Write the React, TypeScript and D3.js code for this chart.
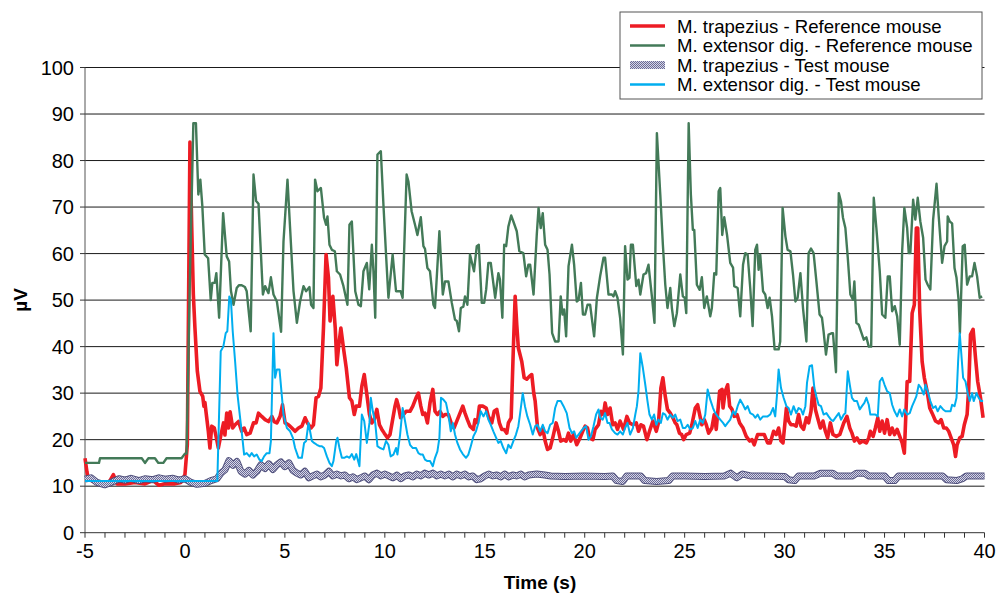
import React from "react";
import * as d3 from "d3";

type P = [number, number];

// Time (s), µV
const refTrapezius: P[] = [
  [-5.0,16],[-4.9,13],[-4.83,11.5],[-4.5,10.8],[-4.0,10.5],[-3.8,10.8],[-3.58,12.5],[-3.4,10.5],[-3.0,10.5],[-2.5,10.8],[-2.0,10.5],[-1.6,11.2],[-1.3,10.2],[-1.0,10.5],[-0.5,10.5],[-0.2,10.8],[0.0,12.5],[0.12,19],[0.25,84],[0.34,65.5],[0.42,51.2],[0.5,44],[0.62,34.7],[0.75,30.4],[0.89,29.3],[0.95,27.2],[1.0,28],[1.05,26.1],[1.17,21.8],[1.25,18.2],[1.34,22.9],[1.47,22.5],[1.59,20],[1.67,18.2],[1.8,21],[1.93,23.6],[2.0,21],[2.09,25.7],[2.18,22.5],
  [2.26,26],[2.39,22.5],[2.51,23.2],[2.68,23.9],[2.84,21.8],[2.96,22.5],[3.09,21.1],[3.26,21.4],[3.43,23.6],[3.56,23.6],[3.68,25.7],[3.84,25],[4.01,24.3],[4.18,23.9],[4.35,25],[4.46,23.9],[4.6,23.6],[4.76,25],[4.88,27.5],[5.01,23.6],[5.18,23.2],[5.35,22.5],[5.51,21.8],[5.68,22.5],[5.85,22.9],[6.01,24.7],[6.13,23.6],[6.3,22.5],[6.43,23.2],[6.56,29],[6.68,29.3],[6.8,31.1],[6.93,44],[7.06,59.8],[7.18,54.8],[7.26,45.5],[7.4,50.8],[7.52,44],[7.6,36.1],[7.68,39.7],[7.8,44],[7.93,39.7],[8.07,35.4],[8.23,29],[8.35,28.3],[8.47,25.4],[8.57,27.2],[8.73,27.2],[8.85,31.5],[8.97,34],[9.1,29.7],[9.23,25.4],[9.35,23.6],[9.47,24.3],[9.6,26.5],[9.73,23.2],[9.85,22.2],[9.97,21.4],
  [10.13,20.4],[10.26,21.1],[10.39,24.3],[10.51,27.2],[10.59,28.6],[10.68,27.2],[10.79,24.7],[10.93,25.4],[11.06,26.1],[11.26,26.1],[11.4,27.2],[11.56,29],[11.68,30],[11.8,27.2],[11.9,25.4],[12.01,25.7],[12.13,23.6],[12.26,27.9],[12.4,30.8],[12.51,26.1],[12.63,25.4],[12.76,26.1],[12.9,25],[13.01,25.4],[13.18,25.4],[13.35,23.2],[13.46,22.5],[13.6,24],[13.76,25.7],[13.9,27.2],[14.01,25.7],[14.13,24.3],[14.26,22.9],[14.43,22.2],[14.51,24.3],[14.63,23.6],[14.73,27.2],[14.9,27.2],[15.07,26.8],[15.18,25],[15.35,23.6],[15.47,26.1],[15.6,26.5],[15.73,23.6],[15.85,22.2],[15.97,22.2],[16.1,21.4],[16.18,23.6],[16.32,24.7],[16.43,39.7],[16.52,50.8],[16.6,44.7],[16.68,39.7],[16.85,36.8],[16.97,33.3],[17.1,33],[17.23,33.6],[17.35,34],[17.45,30],
  [17.52,28.3],[17.64,22.5],[17.77,21.1],[17.9,22.5],[18.02,19.7],[18.14,17.9],[18.27,18.2],[18.4,20.4],[18.57,23.6],[18.69,21.8],[18.8,19.7],[18.94,20],[19.07,19.7],[19.19,21.4],[19.3,19.7],[19.44,21.1],[19.6,18.9],[19.77,20.4],[19.9,21.8],[20.02,22.9],[20.14,22.5],[20.24,20.4],[20.41,20],[20.52,22.2],[20.69,23.2],[20.81,26.1],[20.94,25.4],[21.02,27.9],[21.14,25.4],[21.27,26.8],[21.4,23.2],[21.52,23.6],[21.64,22.2],[21.77,24],[21.94,22.2],[22.11,25],[22.24,23.6],[22.41,23.2],[22.58,23.6],[22.69,21.8],[22.81,23.2],[22.94,22.9],[23.11,20],[23.24,21.8],[23.41,24],[23.58,21.8],[23.69,23.6],[23.81,31.1],[23.91,33.3],[24.03,29.3],[24.14,26.5],[24.28,25.7],[24.41,24.7],[24.53,23.6],[24.61,23.2],[24.74,21.4],[24.85,21.1],[24.95,20],
  [25.08,21.1],[25.25,21.4],[25.36,23.2],[25.53,26.8],[25.65,27.5],[25.75,25.4],[25.86,23.2],[25.98,24.3],[26.08,23.2],[26.2,21.4],[26.36,22.5],[26.48,25.4],[26.58,22.2],[26.75,30.4],[26.87,30.8],[26.92,26.8],[27.03,30.4],[27.15,31.8],[27.25,27.2],[27.37,26.5],[27.48,25],[27.62,25.4],[27.75,23.6],[27.92,22.5],[28.08,20.7],[28.25,19.7],[28.37,20],[28.48,18.9],[28.65,21.1],[28.82,21.1],[28.98,21.1],[29.15,19.3],[29.28,19.3],[29.45,21.8],[29.58,21.1],[29.7,22.5],[29.82,19.7],[29.92,19.3],[30.09,26.8],[30.2,24],[30.32,23.2],[30.45,23.2],[30.58,22.9],[30.7,25.4],[30.82,22.9],[30.95,22.2],[31.09,24.7],[31.2,23.6],[31.32,26.1],[31.42,31.1],[31.54,26.5],[31.65,24.7],[31.79,22.5],[31.92,24],[32.04,21.8],[32.15,20.4],
  [32.29,23.6],[32.42,21.1],[32.59,20.7],[32.76,21.1],[32.96,23.6],[33.12,25],[33.26,22.5],[33.37,21.4],[33.49,19.7],[33.62,20.4],[33.76,19.3],[33.92,19.7],[34.09,19.3],[34.21,20.4],[34.29,21.8],[34.43,20.7],[34.54,22.5],[34.66,24.7],[34.76,21.8],[34.88,24],[35.0,21.4],[35.13,24.3],[35.26,21.1],[35.38,22.5],[35.5,21.1],[35.63,22.2],[35.76,20.7],[35.88,19.3],[35.99,17.1],[36.13,32.5],[36.26,32.5],[36.38,47.2],[36.49,49],[36.59,65.5],[36.66,65.5],[36.76,47.6],[36.88,36.8],[36.99,33.3],[37.13,30.4],[37.26,26.8],[37.38,25.7],[37.55,24],[37.71,23.6],[37.83,24.3],[37.96,22.5],[38.09,22.5],[38.21,21.8],[38.33,20.4],[38.46,18.9],[38.55,16.4],[38.63,18.9],[38.76,20.4],[38.88,20.7],[38.99,23.2],[39.13,25.4],[39.21,31.1],[39.3,42.6],[39.43,43.7],[39.55,37.6],[39.66,32.5],[39.8,29],[39.93,24.7]
];

const refExtensor: P[] = [
  [-5.0,15],[-4.3,15],[-4.25,16],[-2.16,16],[-2.0,15],[-1.83,16],[-1.5,16],[-1.33,15],[-1.08,15],[-0.92,16],[-0.17,16],[0.0,17],[0.08,17],[0.25,55],[0.42,88],[0.55,88],[0.67,72.7],[0.77,75.9],[0.87,70.2],[0.99,59.8],[1.16,59],[1.29,50],[1.37,53.7],[1.49,53.7],[1.57,55.8],[1.71,46.2],[1.91,68.7],[2.09,59.4],[2.21,58.3],[2.3,52],[2.43,49],[2.59,52.6],[2.7,53.2],[2.84,53.2],[3.0,52.8],[3.09,51.9],[3.29,43.3],[3.43,77],[3.56,71.3],[3.68,70.7],[3.9,51.2],[4.01,53],[4.18,51.5],[4.3,54.9],[4.43,51.2],[4.6,49.7],[4.81,43.2],[4.93,62.6],[5.13,75.9],[5.26,65.5],[5.43,52],[5.6,45.1],[5.76,49.7],[5.93,53],[6.06,51.9],[6.23,52.8],[6.31,49],[6.43,48.3],[6.51,75.9],[6.63,73.4],[6.8,74.1],[6.96,67.7],[7.06,66.2],[7.13,68],[7.23,61.9],[7.35,60.8],[7.5,60.5],[7.6,56.2],[7.76,55.5],[7.93,53],[8.13,49],[8.23,66.2],[8.35,66.9],[8.52,51.9],[8.68,49],[8.8,48.7],[8.93,56.2],[9.1,58],[9.22,52.3],[9.35,61.9],[9.43,56.2],[9.52,46.2],[9.63,81.3],[9.8,82],[9.93,70.5],
  [10.06,59.8],[10.18,50.5],[10.39,59.8],[10.56,51.9],[10.68,51.9],[10.79,51.9],[10.89,50.5],[11.09,77],[11.18,75.5],[11.34,69.1],[11.51,66.2],[11.63,64],[11.8,67.8],[11.93,61.6],[12.01,61],[12.13,56.9],[12.26,56.2],[12.43,49],[12.51,48.3],[12.73,64.8],[12.9,51.2],[13.01,54],[13.18,54],[13.35,49.4],[13.51,45.8],[13.6,45.5],[13.71,43.3],[13.8,48.3],[13.93,48.6],[14.01,50.8],[14.13,49],[14.26,59.8],[14.46,56.2],[14.6,61.6],[14.7,61.9],[14.85,49.4],[14.97,49.4],[15.07,52.3],[15.18,58],[15.3,58],[15.52,50.5],[15.68,55.8],[15.76,54.4],[15.88,46.2],[15.97,61.9],[16.07,61.6],[16.18,65.8],[16.32,68.2],[16.43,66.9],[16.6,64.8],[16.73,60.5],[16.93,60.1],[17.07,55.1],[17.18,57.6],[17.27,57.6],[17.44,51.2],[17.6,64],[17.69,69.8],[17.8,65.5],[17.9,68.7],[18.02,61.9],[18.14,60.8],[18.24,55.5],[18.37,42.9],[18.52,41.1],[18.69,41.1],[18.8,50.8],[18.89,46.9],[18.97,48],[19.07,42.2],[19.19,57.3],[19.36,61.9],[19.47,57.6],[19.6,49.7],[19.69,50],[19.81,53.7],[19.91,46.9],[20.02,46.9],[20.14,49],[20.27,49],[20.47,42.2],[20.61,50.5],[20.77,55.1],[20.94,59.1],[21.02,59.1],[21.19,51.2],[21.36,51.2],[21.44,50.8],[21.52,51.9],[21.64,50.5],[21.77,46.2],[21.91,38.3],[22.02,61.6],[22.14,54.4],[22.24,54.8],[22.31,61.9],[22.41,61.9],[22.58,53],[22.69,54.4],[22.78,51.2],[22.94,55.5],[23.07,55.8],[23.19,57.6],[23.27,54.4],[23.36,50.8],[23.49,45.1],[23.61,85.9],[23.78,72.7],[23.91,61.9],[24.03,53.3],[24.14,48.3],[24.28,52.6],[24.36,48.3],[24.48,44.4],[24.61,47.2],[24.78,55.5],[24.91,50.8],[25.0,50.5],[25.08,47.2],[25.2,88],[25.31,72.7],[25.41,65.1],[25.48,65.1],[25.61,53.3],[25.75,52.2],[25.86,54.9],[25.98,48.3],[26.11,50.8],[26.28,46.5],[26.36,48.3],[26.48,55.8],[26.58,55.5],[26.7,73.4],[26.78,74.1],[26.88,64],[26.98,67.8],[27.12,64],[27.28,58],[27.42,57],[27.48,53],[27.65,52.6],[27.78,46.5],[27.92,57.6],[28.03,60.1],[28.15,59.8],[28.28,52.6],[28.4,44.4],[28.53,60.8],[28.62,61.9],[28.7,56.5],[28.78,59.8],[28.92,51.9],[29.03,51.2],[29.15,48.3],[29.25,50.5],[29.37,46.5],[29.5,39.4],[29.7,39.4],[29.78,41.1],[29.9,69.8],
  [30.04,63.7],[30.15,60.8],[30.29,60.5],[30.42,55.5],[30.54,49.7],[30.65,50.5],[30.79,55.8],[30.92,48.3],[31.09,41.1],[31.2,60.1],[31.32,61.1],[31.45,60.1],[31.59,54],[31.75,46.9],[31.87,46.2],[31.95,43.3],[32.07,38.3],[32.2,42.6],[32.37,42.9],[32.42,42.9],[32.57,34.5],[32.71,73],[32.82,71.2],[32.92,67.7],[33.04,65.5],[33.16,59.1],[33.29,51.2],[33.42,50.1],[33.49,54],[33.59,45.1],[33.71,44.7],[33.82,43.3],[33.96,41.5],[34.09,42],[34.21,40],[34.33,40],[34.46,72],[34.59,65.5],[34.76,56.2],[34.88,46.9],[35.04,46.2],[35.16,55.1],[35.26,55.1],[35.38,47.6],[35.51,48.7],[35.63,46.5],[35.76,40.4],[35.88,60.5],[35.99,69.8],[36.13,65.5],[36.21,60.1],[36.29,60.1],[36.43,71.6],[36.54,67.3],[36.66,72],[36.79,66.9],[36.93,63.4],[37.05,54.4],[37.16,53.3],[37.29,52.3],[37.43,67.3],[37.6,75],[37.71,68],[37.88,58],[38.0,61.6],[38.13,62.6],[38.16,68],[38.26,66.9],[38.38,66.5],[38.5,56.9],[38.6,54.8],[38.71,49.7],[38.77,42.9],[38.91,61.6],[39.01,61.9],[39.13,53.3],[39.26,55.1],[39.38,55.1],[39.5,58],[39.63,55.1],[39.76,50.5],[39.88,50.8]
];

const testTrapezius: P[] = [
  [-5,11.5],[-4.7,11.8],[-4.4,10.8],[-4.0,10.3],[-3.7,10.8],[-3.3,11.6],[-3.0,11.3],[-2.7,11.7],[-2.3,11.2],[-2.0,11.6],[-1.6,11.4],[-1.3,11.8],[-1.0,11.5],[-0.6,11.7],[-0.3,11.3],[0.0,11.6],[0.3,10.8],[0.6,10.4],[1.0,10.6],[1.3,11.2],[1.6,11.6],[1.8,12.8],[2.0,13.5],[2.2,15.5],[2.4,14.5],[2.6,15.3],[2.8,13.2],[3.0,12.6],[3.2,13.4],[3.4,12.4],[3.6,13.2],[3.8,14.6],[4.0,13.8],[4.2,14.8],[4.4,13.6],[4.6,14.6],[4.8,15.2],[5.0,14.2],[5.2,15],[5.4,13.4],[5.6,12.8],[5.8,12.4],[6.0,13.2],[6.2,11.8],[6.4,12.2],[6.6,12.6],[6.8,12],[7.0,12.4],[7.2,13.2],[7.4,12.2],[7.6,12.6],[7.8,12.2],[8.0,12.4],[8.2,11.6],[8.4,12],[8.6,11.4],[8.8,11.8],[9.0,12.2],[9.2,11.4],[9.4,12.4],[9.6,12.8],[9.8,12.2],[10.0,12.6],[10.2,12.2],[10.4,11.8],[10.6,12.4],[10.8,11.6],[11.0,12.2],[11.2,12.4],[11.4,12],[11.6,12.6],[11.8,12.2],[12.0,12.8],[12.2,12.4],[12.4,12.8],[12.6,12.2],[12.8,12.6],[13.0,12.2],[13.2,12.6],[13.4,12],[13.6,12.6],[13.8,12.2],[14.0,12.6],[14.2,12],[14.4,12.2],[14.6,11.4],[14.8,11.6],[15.0,12.2],[15.2,12.6],[15.4,12.2],[15.6,12.4],[15.8,12],[16.0,12.6],[16.2,12],[16.4,12.4],[16.6,12.2],[16.8,12.6],[17.0,12],[17.2,12.4],[17.6,12.6],[18.0,12.4],[18.3,12.2],[19.0,12.1],[20.0,12.2],[21.0,12.1],[21.4,12.2],[21.6,11.2],[21.9,11],[22.1,12.2],[22.8,12.2],[23.0,11.2],[23.6,11],[24.2,11.2],[24.4,12.2],[25.0,12.2],[26.0,12.1],[27.0,12.2],[27.3,12.8],[27.6,11.8],[27.9,12.6],[28.3,12.2],[29.0,12.2],[30.0,12.1],[30.2,11.4],[30.5,11.2],[30.7,12.2],[31.5,12.2],[31.8,12.8],[32.4,12.8],[32.6,12.2],[33.4,12.2],[33.6,12.8],[34.0,12.8],[34.2,12.2],[35.0,12.2],[35.2,11.2],[35.5,11.2],[35.7,12.2],[37.9,12.2],[38.1,11.4],[38.6,11.2],[38.9,11.6],[39.1,12.2],[40,12.2]
];

const testExtensor: P[] = [
  [-5.0,11.1],[1.62,11.1],[1.79,39],[1.92,40],[2.04,42.9],[2.12,43.3],[2.22,50.8],[2.3,50],[2.39,43.3],[2.51,36.8],[2.63,29.7],[2.76,24.7],[2.89,19.7],[2.96,16.8],[3.09,17.1],[3.23,16.4],[3.34,17.1],[3.46,16.4],[3.59,16.8],[3.73,15.7],[3.84,15.4],[3.96,16.4],[4.09,17.1],[4.23,17.1],[4.3,19.7],[4.43,42.9],[4.51,33.3],[4.6,35.1],[4.73,35.1],[4.85,29.3],[4.93,25.4],[5.1,22.5],[5.26,21.8],[5.4,20.4],[5.51,18.2],[5.68,16.1],[5.85,16.1],[5.96,19.3],[6.06,19.7],[6.18,23.6],[6.26,21.8],[6.35,19.7],[6.46,19.3],[6.6,18.9],[6.73,18.6],[6.85,18.6],[6.96,18.2],[7.1,16.4],[7.23,15],[7.35,14.3],[7.43,15.4],[7.57,19.7],[7.63,20.4],[7.73,18.2],[7.85,16.1],[7.97,16.1],[8.1,16.4],[8.23,16.1],[8.35,16.9],[8.47,15.7],[8.57,16.9],[8.73,14.3],[8.85,25.4],[8.97,24],[9.1,19.3],[9.23,23.6],[9.3,29],[9.4,26.1],[9.52,23.6],[9.63,18.6],[9.76,18.2],[9.93,17.9],
  [10.06,19.7],[10.18,18.9],[10.29,16.4],[10.43,16.8],[10.56,18.2],[10.63,16.8],[10.76,20.9],[10.89,26.8],[11.01,24],[11.13,21.1],[11.26,18.9],[11.4,18.2],[11.56,18.2],[11.68,17.1],[11.8,16.8],[11.9,16.8],[12.01,15.7],[12.13,15.4],[12.26,15.4],[12.4,14.3],[12.51,16.1],[12.63,17.5],[12.73,20.4],[12.81,29],[12.93,28.6],[13.06,27.9],[13.18,25.4],[13.3,21.8],[13.4,23.6],[13.51,21.1],[13.63,19.3],[13.76,17.9],[13.9,16.9],[14.06,16.1],[14.18,16.8],[14.3,18.6],[14.43,20.7],[14.56,21.8],[14.68,23.6],[14.8,26.1],[14.93,25],[15.07,26.1],[15.18,24.3],[15.3,23.2],[15.43,21.8],[15.57,20.4],[15.68,19.3],[15.8,19.7],[15.93,18.2],[16.07,17.1],[16.18,18.9],[16.3,18.2],[16.43,19.7],[16.56,21.1],[16.68,22.9],[16.76,25.4],[16.9,30],[17.01,27.2],[17.13,25],[17.27,23.2],[17.4,21.1],[17.52,22.9],[17.64,23.2],[17.77,21.8],[17.9,23.2],[18.02,21.8],[18.14,21.4],[18.27,23.2],[18.4,23.6],[18.52,26.8],[18.64,28.3],[18.8,28.3],[18.94,27.2],[19.1,25.7],[19.24,22.5],[19.36,21.4],[19.47,21.8],[19.57,20.4],[19.69,21.1],[19.81,21.8],[19.94,22.5],
  [20.07,22.9],[20.19,20],[20.31,20.7],[20.44,22.9],[20.57,25.4],[20.69,26.5],[20.77,24.7],[20.9,24.3],[21.02,25.7],[21.14,23.6],[21.24,23.6],[21.36,22.2],[21.52,21.4],[21.64,21.1],[21.77,21.8],[21.91,21.1],[22.02,22.5],[22.14,23.6],[22.27,21.1],[22.41,22.5],[22.53,25.4],[22.61,27.2],[22.69,30.4],[22.78,38.6],[22.91,35.4],[23.03,31.8],[23.14,28.3],[23.24,25.4],[23.36,24.3],[23.47,25.4],[23.58,23.2],[23.69,24.3],[23.81,23.6],[23.91,25.7],[24.03,25.4],[24.14,24.3],[24.28,25.4],[24.41,24.7],[24.53,25.4],[24.64,24],[24.78,24.3],[24.91,22.5],[25.03,22.5],[25.15,23.2],[25.28,22.2],[25.41,22.5],[25.53,24],[25.65,22.5],[25.78,24.3],[25.91,23.6],[26.03,25.4],[26.15,30.8],[26.28,28.6],[26.42,26.8],[26.53,25.7],[26.65,25],[26.78,24.3],[26.92,23.6],[27.03,22.9],[27.15,23.6],[27.28,24.3],[27.42,26.1],[27.53,25.4],[27.65,27.2],[27.78,28.6],[27.92,27.5],[28.03,26.5],[28.15,27.2],[28.28,25.7],[28.42,25.4],[28.53,24.7],[28.65,25.4],[28.78,24.3],[28.92,25],[29.03,25],[29.15,25],[29.28,25.4],[29.42,26.8],[29.53,25],[29.62,29.7],[29.7,35.1],[29.82,31.1],[29.95,29],
  [30.09,27.2],[30.2,26.8],[30.32,25.4],[30.45,27.2],[30.58,25.7],[30.7,26.8],[30.82,26.5],[30.92,25.4],[31.04,27.2],[31.12,32.2],[31.25,35.8],[31.37,36],[31.49,31.1],[31.59,29.3],[31.7,27.5],[31.82,27.2],[31.95,25.4],[32.09,25.7],[32.2,25],[32.32,24.3],[32.42,24],[32.59,25],[32.71,25.7],[32.82,24.3],[32.96,25.4],[33.04,25.7],[33.16,34.7],[33.26,31.8],[33.37,29],[33.49,28.3],[33.62,28.3],[33.76,26.5],[33.87,27.2],[33.99,27.9],[34.09,29],[34.21,27.5],[34.29,25.4],[34.43,25.4],[34.54,25.4],[34.66,25],[34.76,32.5],[34.88,33.3],[35.0,31.8],[35.13,30.4],[35.26,30],[35.38,27.5],[35.5,26.1],[35.63,25],[35.76,26.5],[35.88,25],[35.99,26.5],[36.13,25.4],[36.26,25.7],[36.38,27.2],[36.49,28.3],[36.59,29.3],[36.71,31.8],[36.83,31.1],[36.96,29.7],[37.05,31.8],[37.16,30.4],[37.29,28.3],[37.43,26.8],[37.55,27.2],[37.66,26.1],[37.79,27.2],[37.93,26.5],[38.05,26.1],[38.16,26.1],[38.3,26.1],[38.38,27.5],[38.5,27.2],[38.6,29],[38.68,36.8],[38.76,42.9],[38.83,39],[38.93,33.3],[39.05,32.5],[39.16,30],[39.26,28.3],[39.38,30],[39.46,28.3],[39.6,30],[39.71,29],[39.83,28.3],[39.93,28.3]
];

const yTicks = [0, 10, 20, 30, 40, 50, 60, 70, 80, 90, 100];
const xMajorTicks = [-5, 0, 5, 10, 15, 20, 25, 30, 35, 40];
const xMinorTicks = d3.range(-5, 41, 1);
const seriesNames = [
  "M. trapezius - Reference mouse",
  "M. extensor dig. - Reference mouse",
  "M. trapezius - Test mouse",
  "M. extensor dig. - Test mouse",
];

const FONT = "'Liberation Sans', Arial, sans-serif";
const RED = "#ed1c24";
const GREEN = "#437a58";
const BLUE = "#00aeef";
const NAVY = "#50507c";

export default function App() {
  const x = d3.scaleLinear().domain([-5, 40]).range([85, 984.5]);
  const y = d3.scaleLinear().domain([0, 100]).range([532.7, 67.5]);
  const line = d3.line<P>().x((d) => x(d[0])).y((d) => y(d[1]));

  const legendX = 620, legendY = 12, legendW = 362, legendH = 87;
  const rowY = [26, 45.5, 65, 84.5];

  return (
    <svg width={997} height={593} style={{ position: "absolute", left: 0, top: 0, background: "#fff" }} fontFamily={FONT}>
      <defs>
        <pattern id="hatch" width="2" height="2" patternUnits="userSpaceOnUse">
          <rect width="2" height="2" fill="#d6d6e6" />
          <rect x="0" y="0" width="1" height="1" fill="#6a6a96" />
          <rect x="1" y="1" width="1" height="1" fill="#6a6a96" />
        </pattern>
      </defs>
      <rect width={997} height={593} fill="#fff" />
      {/* gridlines */}
      {yTicks.filter((t) => t > 0).map((t) => (
        <line key={"g" + t} x1={x(-5)} x2={x(40)} y1={y(t)} y2={y(t)} stroke="#1a1a1a" strokeWidth={1} />
      ))}
      {/* axes */}
      <line x1={x(-5)} x2={x(-5)} y1={y(100)} y2={y(0)} stroke="#555" strokeWidth={1} />
      <line x1={x(-5)} x2={x(40)} y1={y(0)} y2={y(0)} stroke="#333" strokeWidth={1} />
      {yTicks.map((t) => (
        <g key={"yt" + t}>
          <line x1={x(-5) - 5} x2={x(-5)} y1={y(t)} y2={y(t)} stroke="#333" />
          <text x={74} y={y(t)} dy="0.36em" textAnchor="end" fontSize={20} fill="#000">{t}</text>
        </g>
      ))}
      {xMinorTicks.map((t) => (
        <line key={"xm" + t} x1={x(t)} x2={x(t)} y1={y(0)} y2={y(0) + 5} stroke="#333" />
      ))}
      {xMajorTicks.map((t) => (
        <text key={"xl" + t} x={x(t)} y={558} textAnchor="middle" fontSize={20} fill="#000">{t}</text>
      ))}
      <text x={540} y={589} textAnchor="middle" fontSize={19} fontWeight="bold" fill="#000">Time (s)</text>
      <text transform="translate(27,300) rotate(-90)" textAnchor="middle" fontSize={19} fontWeight="bold" fill="#000">µV</text>

      {/* series */}
      <path d={line(refTrapezius) || ""} fill="none" stroke={RED} strokeWidth={3.6} strokeLinejoin="round" />
      <path d={line(refExtensor) || ""} fill="none" stroke={GREEN} strokeWidth={2.4} strokeLinejoin="round" />
      <path d={line(testTrapezius) || ""} fill="none" stroke={NAVY} strokeWidth={7} strokeLinejoin="round" />
      <path d={line(testTrapezius) || ""} fill="none" stroke="url(#hatch)" strokeWidth={5} strokeLinejoin="round" />
      <path d={line(testExtensor) || ""} fill="none" stroke={BLUE} strokeWidth={2} strokeLinejoin="round" />

      {/* legend */}
      <rect x={legendX} y={legendY} width={legendW} height={legendH} fill="#fff" stroke="#555" strokeWidth={1} />
      <line x1={630} x2={665} y1={rowY[0]} y2={rowY[0]} stroke={RED} strokeWidth={3.6} />
      <line x1={630} x2={665} y1={rowY[1]} y2={rowY[1]} stroke={GREEN} strokeWidth={2.4} />
      <rect x={630} y={rowY[2] - 4} width={35} height={8} fill="url(#hatch)" />
      <line x1={630} x2={665} y1={rowY[3]} y2={rowY[3]} stroke={BLUE} strokeWidth={2.4} />
      {seriesNames.map((n, i) => (
        <text key={n} x={677} y={rowY[i]} dy="0.36em" fontSize={18.6} fill="#000">{n}</text>
      ))}
    </svg>
  );
}
